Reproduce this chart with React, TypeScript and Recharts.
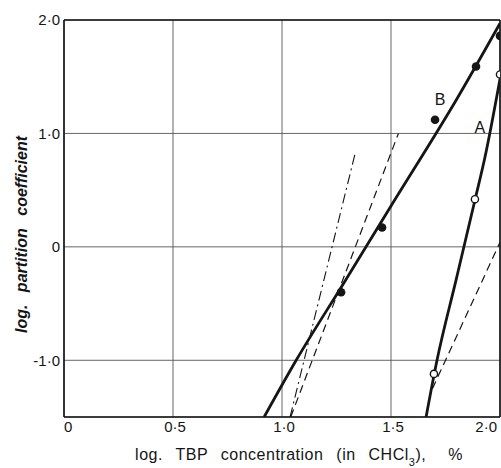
import React from 'react';
import {
  ComposedChart,
  Line,
  Scatter,
  XAxis,
  YAxis,
  CartesianGrid,
  ReferenceLine,
  ReferenceDot,
} from 'recharts';

// ---- tick values and labels ----
const xTicks = [0, 0.5, 1.0, 1.5, 2.0];
const xTickLabels = ['0', '0·5', '1·0', '1·5', '2·0'];
const yTicks = [-1.0, 0, 1.0, 2.0];
const yTickLabels = ['-1·0', '0', '1·0', '2·0'];

// ---- curve A (thick solid) ----
const curveA = [
  { x: 1.661, y: -1.5 },
  { x: 1.711, y: -1.0 },
  { x: 1.8, y: -0.28 },
  { x: 1.886, y: 0.42 },
  { x: 1.931, y: 0.79 },
  { x: 2.0, y: 1.48 },
];

// ---- curve B (thick solid) ----
const curveB = [
  { x: 0.918, y: -1.5 },
  { x: 1.065, y: -1.0 },
  { x: 1.283, y: -0.32 },
  { x: 1.5, y: 0.36 },
  { x: 1.804, y: 1.31 },
  { x: 2.0, y: 1.97 },
];

// ---- thin reference lines ----
const dashedB = [
  { x: 1.04, y: -1.5 },
  { x: 1.534, y: 1.0 },
];
const dashDotB = [
  { x: 1.037, y: -1.5 },
  { x: 1.335, y: 0.82 },
];
const dashedA = [
  { x: 1.69, y: -1.25 },
  { x: 2.0, y: 0.04 },
];

// ---- measured points ----
const pointsA = [
  { x: 1.697, y: -1.12 },
  { x: 1.885, y: 0.42 },
  { x: 2.0, y: 1.52 },
];
const pointsB = [
  { x: 1.271, y: -0.4 },
  { x: 1.459, y: 0.17 },
  { x: 1.702, y: 1.12 },
  { x: 1.89, y: 1.59 },
  { x: 2.0, y: 1.86 },
];

// ---- curve labels ----
const curveLabels = [
  { name: 'B', x: 1.725, y: 1.3 },
  { name: 'A', x: 1.908, y: 1.05 },
];

const FONT = 'Liberation Sans, Arial, sans-serif';
const INK = '#151515';

const XTick = (props: any) => {
  const { x, y, payload } = props;
  const i = xTicks.indexOf(payload.value);
  const last = xTicks.length - 1;
  const anchor = i === 0 ? 'start' : i === last ? 'end' : 'middle';
  const dx = i === 0 ? 0 : i === last ? 0 : 2;
  return (
    <text
      x={x + dx}
      y={y}
      dy="0.35em"
      textAnchor={anchor}
      fontFamily={FONT}
      fontSize={15}
      fill={INK}
    >
      {xTickLabels[i]}
    </text>
  );
};

const YTick = (props: any) => {
  const { x, y, payload } = props;
  const i = yTicks.indexOf(payload.value);
  return (
    <text
      x={x}
      y={y}
      dy="0.35em"
      textAnchor="end"
      fontFamily={FONT}
      fontSize={15}
      fill={INK}
    >
      {yTickLabels[i]}
    </text>
  );
};

const XLabel = (props: any) => {
  const vb = props.viewBox || { x: 0, y: 0, width: 0, height: 0 };
  const cx = vb.x + vb.width / 2 + 17;
  return (
    <text
      x={cx}
      y={vb.y + 43}
      textAnchor="middle"
      fontFamily={FONT}
      fontSize={16}
      fill={INK}
      style={{ wordSpacing: '8px', letterSpacing: '0.5px' }}
    >
      log. TBP concentration (in CHCl
      <tspan dy={6} fontSize={11}>3</tspan>
      <tspan dy={-6}>),</tspan>
      <tspan dx={22}>%</tspan>
    </text>
  );
};

const YLabel = (props: any) => {
  const vb = props.viewBox || { x: 0, y: 0, width: 0, height: 0 };
  const cx = 21;
  const cy = vb.y + vb.height / 2 + 16;
  return (
    <text
      x={cx}
      y={cy}
      transform={`rotate(-90, ${cx}, ${cy})`}
      textAnchor="middle"
      dominantBaseline="central"
      fontFamily={FONT}
      fontSize={16}
      fontStyle="italic"
      fontWeight="bold"
      fill={INK}
      style={{ wordSpacing: '8px' }}
    >
      log. partition coefficient
    </text>
  );
};

const FilledDot = (props: any) => {
  const { cx, cy } = props;
  if (cx == null || cy == null) return null;
  return <circle cx={cx} cy={cy} r={4.3} fill={INK} />;
};

const OpenDot = (props: any) => {
  const { cx, cy } = props;
  if (cx == null || cy == null) return null;
  return <circle cx={cx} cy={cy} r={3.6} fill="#fff" stroke={INK} strokeWidth={1.4} />;
};

const makeTextShape = (txt: string) => (props: any) => {
  const { cx, cy } = props;
  return (
    <text
      x={cx}
      y={cy}
      dy="0.35em"
      textAnchor="middle"
      fontFamily={FONT}
      fontSize={16}
      fill={INK}
    >
      {txt}
    </text>
  );
};

export default function App() {
  return (
    <div style={{ position: 'absolute', left: 0, top: 0, background: '#fff' }}>
      <ComposedChart
        width={501}
        height={468}
        margin={{ top: 20, right: 1, bottom: 0, left: 0 }}
      >
        <CartesianGrid stroke="#555" strokeWidth={0.9} />
        <XAxis
          type="number"
          dataKey="x"
          domain={[0, 2]}
          ticks={xTicks}
          allowDataOverflow
          height={51}
          tickSize={0}
          tickMargin={10}
          tick={<XTick />}
          axisLine={{ stroke: INK, strokeWidth: 1.6 }}
          tickLine={false}
          label={<XLabel />}
        />
        <YAxis
          type="number"
          dataKey="y"
          domain={[-1.5, 2]}
          ticks={yTicks}
          allowDataOverflow
          width={64}
          tickSize={0}
          tickMargin={4}
          tick={<YTick />}
          axisLine={{ stroke: INK, strokeWidth: 1.6 }}
          tickLine={false}
          label={<YLabel />}
        />
        <ReferenceLine y={2} stroke={INK} strokeWidth={1.6} />
        <ReferenceLine x={2} stroke={INK} strokeWidth={1.6} />

        <Line
          data={dashDotB}
          dataKey="y"
          type="linear"
          stroke={INK}
          strokeWidth={1.1}
          strokeDasharray="10 4 2 4"
          dot={false}
          activeDot={false}
          isAnimationActive={false}
        />
        <Line
          data={dashedB}
          dataKey="y"
          type="linear"
          stroke={INK}
          strokeWidth={1.2}
          strokeDasharray="8 5"
          dot={false}
          activeDot={false}
          isAnimationActive={false}
        />
        <Line
          data={dashedA}
          dataKey="y"
          type="linear"
          stroke={INK}
          strokeWidth={1.2}
          strokeDasharray="8 5"
          dot={false}
          activeDot={false}
          isAnimationActive={false}
        />
        <Line
          data={curveB}
          dataKey="y"
          type="monotone"
          stroke={INK}
          strokeWidth={2.8}
          dot={false}
          activeDot={false}
          isAnimationActive={false}
        />
        <Line
          data={curveA}
          dataKey="y"
          type="monotone"
          stroke={INK}
          strokeWidth={2.8}
          dot={false}
          activeDot={false}
          isAnimationActive={false}
        />
        <Scatter
          data={pointsB}
          dataKey="y"
          shape={<FilledDot />}
          isAnimationActive={false}
        />
        <Scatter
          data={pointsA}
          dataKey="y"
          shape={<OpenDot />}
          isAnimationActive={false}
        />
        {curveLabels.map((l) => (
          <ReferenceDot
            key={l.name}
            x={l.x}
            y={l.y}
            r={0}
            shape={makeTextShape(l.name)}
          />
        ))}
      </ComposedChart>
    </div>
  );
}
